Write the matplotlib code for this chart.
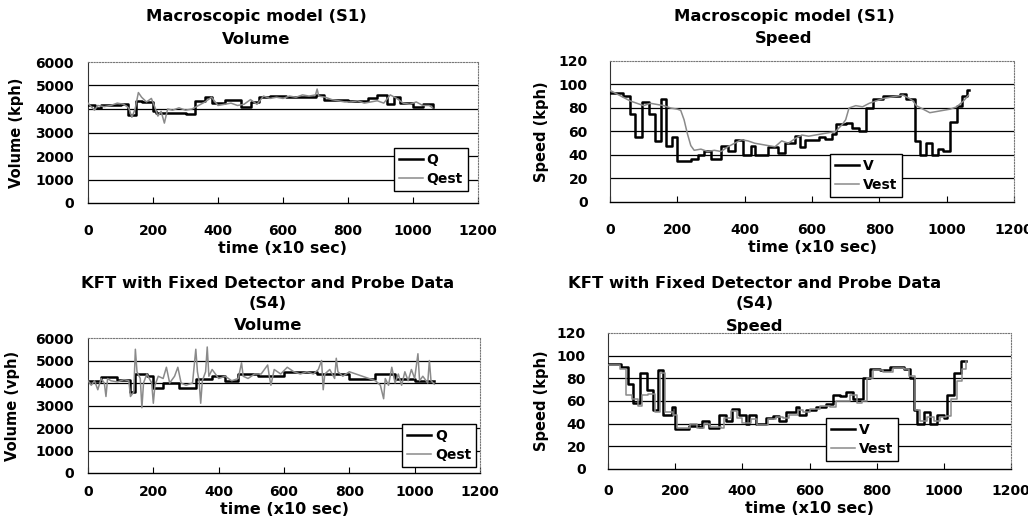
import matplotlib
matplotlib.use("Agg")
import matplotlib.pyplot as plt

plt.rcParams["font.family"] = ["DejaVu Sans"]
plt.rcParams["font.weight"] = "bold"

# ---- S1 volume (macroscopic model) ----
q1_t = [0, 20, 40, 100, 123, 148, 165, 200, 210, 300, 330, 360, 380, 420, 470, 500, 525, 560,
        610, 700, 725, 800, 860, 890, 920, 940, 960, 1000, 1030, 1060]
q1_v = [4150, 4050, 4150, 4200, 3750, 4350, 4300, 3900, 3850, 3800, 4350, 4500, 4250, 4400, 4100,
        4300, 4500, 4550, 4500, 4600, 4400, 4350, 4450, 4600, 4200, 4500, 4250, 4100, 4200, 4100]
qe1_t = [0, 10, 20, 30, 50, 70, 90, 110, 125, 135, 145, 155, 165, 180, 195, 205, 215, 225, 235, 245,
         260, 280, 300, 320, 340, 360, 380, 400, 420, 440, 460, 480, 500, 520, 540, 560, 580, 600,
         620, 640, 660, 680, 700, 705, 710, 730, 750, 770, 790, 810, 830, 850, 870, 890, 910, 930,
         950, 970, 990, 1010, 1030, 1050, 1060]
qe1_v = [4250, 4100, 3950, 4150, 4100, 4150, 4250, 4200, 4050, 3650, 4000, 4700, 4500, 4300, 4450,
         4100, 3700, 3900, 3400, 4000, 3950, 4050, 3950, 4000, 4150, 4300, 4500, 4150, 4200, 4250,
         4150, 4200, 4400, 4200, 4550, 4450, 4500, 4450, 4550, 4500, 4600, 4550, 4600, 4850, 4550,
         4500, 4400, 4350, 4300, 4300, 4350, 4250, 4300, 4350, 4250, 4600, 4450, 4250, 4200, 4300,
         4150, 4150, 4050]

# ---- S1 speed ----
v1_t = [0, 40, 60, 75, 95, 115, 135, 150, 165, 185, 200, 240, 260, 280, 300, 330, 350, 370, 395,
        420, 430, 470, 500, 520, 550, 565, 580, 620, 640, 660, 670, 700, 720, 740, 760, 780, 810,
        860, 880, 905, 920, 940, 955, 975, 990, 1010, 1030, 1045, 1060, 1065]
v1_v = [93, 90, 75, 55, 85, 75, 52, 88, 48, 55, 35, 37, 40, 43, 37, 48, 43, 53, 40, 48, 40, 47, 42,
        50, 56, 47, 53, 55, 54, 58, 66, 67, 63, 60, 80, 88, 90, 92, 88, 52, 40, 50, 40, 45, 43, 68,
        82, 90, 95, 95]
ve1_t = [0, 20, 40, 60, 80, 100, 120, 140, 160, 180, 200, 210, 220, 230, 240, 250, 270, 290, 310,
         330, 350, 370, 390, 410, 430, 450, 470, 490, 510, 530, 550, 570, 590, 610, 630, 650, 670,
         690, 700, 710, 730, 750, 770, 790, 810, 830, 850, 870, 890, 900, 910, 930, 950, 970, 990,
         1010, 1030, 1050, 1065]
ve1_v = [95, 92, 89, 86, 84, 82, 84, 83, 82, 80, 79, 78, 70, 58, 48, 44, 45, 43, 44, 43, 47, 50, 53,
         52, 50, 49, 48, 47, 52, 50, 54, 57, 56, 57, 58, 59, 60, 66, 70, 80, 82, 81, 84, 86, 88, 89,
         90, 91, 88, 86, 82, 79, 76, 77, 78, 79, 81, 86, 91]

# ---- S4 volume (KFT) ----
q4_t = [0, 40, 90, 130, 145, 180, 200, 230, 280, 330, 380, 420, 460, 520, 600, 700, 800, 880, 940,
        1000, 1060]
q4_v = [4100, 4250, 4150, 3600, 4400, 4300, 3800, 4000, 3800, 4200, 4300, 4100, 4400, 4300, 4500,
        4400, 4200, 4400, 4200, 4100, 4100]
qe4_t = [0, 10, 20, 30, 40, 50, 55, 60, 70, 90, 110, 125, 130, 140, 145, 150, 160, 165, 170, 180,
         195, 200, 205, 215, 230, 240, 250, 265, 275, 285, 300, 320, 330, 335, 340, 345, 350, 360,
         365, 370, 380, 400, 420, 440, 460, 470, 475, 490, 510, 530, 550, 555, 560, 570, 590, 610,
         630, 650, 670, 690, 705, 715, 720, 725, 740, 755, 760, 765, 780, 800, 820, 840, 860, 880,
         895, 905, 910, 920, 930, 940, 950, 960, 970, 980, 990, 1000, 1010, 1015, 1025, 1040, 1045,
         1050, 1060]
qe4_v = [4100, 3900, 4100, 3700, 4200, 4000, 3400, 4200, 4100, 4050, 4150, 4100, 3400, 3600, 5500,
         4500, 4200, 2900, 4000, 4400, 4000, 3100, 3900, 4300, 4200, 4700, 4000, 4300, 4700, 4000,
         3900, 4000, 5500, 4500, 4100, 3100, 4100, 4500, 5600, 4300, 4600, 4200, 4300, 4100, 4200,
         4900, 4300, 4200, 4400, 4400, 4800, 4300, 3900, 4600, 4400, 4700, 4500, 4400, 4500, 4400,
         4600, 5000, 3700, 4400, 4600, 4200, 5100, 4500, 4300, 4500, 4400, 4300, 4200, 4100, 3900,
         3300, 4200, 3900, 4700, 4000, 4400, 3900, 4500, 4100, 4600, 4200, 5300, 4100, 4300, 4000,
         5000, 4100, 3950]

# ---- S4 speed ----
v4_t = [0, 40, 60, 75, 95, 115, 135, 150, 165, 190, 200, 240, 270, 280, 300, 330, 350, 370, 390,
        410, 420, 440, 470, 490, 510, 530, 560, 570, 590, 620, 650, 670, 690, 710, 730, 760, 780,
        810, 840, 880, 900, 910, 920, 940, 960, 980, 1000, 1010, 1030, 1050, 1065]
v4_v = [93, 90, 75, 58, 85, 70, 52, 87, 48, 55, 35, 38, 37, 42, 36, 48, 42, 53, 48, 40, 48, 40, 45,
        47, 42, 50, 55, 48, 52, 55, 57, 65, 64, 68, 62, 80, 88, 87, 90, 88, 80, 52, 40, 50, 40, 48,
        45, 65, 85, 95, 95]
ve4_t = [0, 35, 55, 70, 90, 100, 120, 140, 155, 170, 195, 205, 245, 265, 285, 305, 335, 345, 365,
         385, 400, 425, 445, 475, 500, 520, 540, 565, 580, 600, 630, 660, 680, 700, 720, 740, 755,
         770, 790, 820, 850, 880, 895, 915, 930, 950, 970, 990, 1005, 1020, 1040, 1055, 1065]
ve4_v = [92, 88, 65, 62, 56, 65, 66, 50, 85, 50, 48, 36, 40, 36, 40, 37, 36, 45, 51, 45, 41, 44, 39,
         44, 46, 45, 48, 52, 50, 53, 56, 55, 60, 60, 65, 58, 60, 80, 87, 86, 89, 88, 82, 52, 42, 46,
         42, 46, 47, 62, 78, 88, 95]

W, H = 1028, 522
GRAY = "#8a8a8a"


def px_axes(l, t, r, b):
    return fig.add_axes([l / W, 1 - b / H, (r - l) / W, (b - t) / H])


def style(ax, ymax, ystep, ylabel, ypad, ylab_x, xpad):
    ax.set_xlim(0, 1200)
    ax.set_ylim(0, ymax)
    ax.set_xticks(range(0, 1201, 200))
    ax.set_yticks(range(0, ymax + 1, ystep))
    for y in range(ystep, ymax, ystep):
        ax.axhline(y, color="black", lw=0.9, zorder=1)
    ax.tick_params(axis="x", direction="in", length=4, width=0.8, labelsize=10, pad=xpad)
    ax.tick_params(axis="y", length=0, labelsize=10, pad=ypad)
    for lab in ax.get_xticklabels() + ax.get_yticklabels():
        lab.set_fontweight("bold")
    ax.spines["bottom"].set_color("black")
    ax.spines["bottom"].set_linewidth(1.0)
    ax.spines["left"].set_color("#333333")
    ax.spines["left"].set_linewidth(0.8)
    for s in ("top", "right"):
        ax.spines[s].set_color("#777777")
        ax.spines[s].set_linestyle((0, (1, 1.5)))
        ax.spines[s].set_linewidth(0.8)
    ax.set_ylabel(ylabel, fontsize=10.5, fontweight="bold")
    ax.yaxis.set_label_coords(ylab_x, 0.5)
    ax.set_xlabel("time (x10 sec)", fontsize=11.5, fontweight="bold", labelpad=2)


def legend(ax, names, loc, anchor):
    leg = ax.legend(names, loc=loc, bbox_to_anchor=anchor, fontsize=10, frameon=True,
                    fancybox=False, edgecolor="black", framealpha=1, handlelength=1.7,
                    handletextpad=0.3, borderpad=0.35, labelspacing=0.35, borderaxespad=0)
    leg.get_frame().set_linewidth(1.0)
    for t in leg.get_texts():
        t.set_fontweight("bold")


fig = plt.figure(figsize=(W / 100, H / 100), dpi=100)
fig.patch.set_facecolor("white")

# panel 1
ax1 = px_axes(88, 62, 478, 203)
ax1.step(q1_t, q1_v, where="post", color="black", lw=1.8, zorder=3)
ax1.plot(qe1_t, qe1_v, color=GRAY, lw=1.1, zorder=4)
style(ax1, 6000, 1000, "Volume (kph)", 10, -0.164, 15)
legend(ax1, ["Q", "Qest"], "lower right", (0.974, 0.085))

# panel 2
ax2 = px_axes(610, 61, 1014, 202)
ax2.step(v1_t, v1_v, where="post", color="black", lw=1.8, zorder=3)
ax2.plot(ve1_t, ve1_v, color=GRAY, lw=1.1, zorder=4)
style(ax2, 120, 20, "Speed (kph)", 16, -0.151, 15)
legend(ax2, ["V", "Vest"], "lower left", (0.545, 0.035))

# panel 3
ax3 = px_axes(88, 338, 480, 473)
ax3.step(q4_t, q4_v, where="post", color="black", lw=1.8, zorder=3)
ax3.plot(qe4_t, qe4_v, color=GRAY, lw=1.1, zorder=4)
style(ax3, 6000, 1000, "Volume (vph)", 10, -0.173, 9)
legend(ax3, ["Q", "Qest"], "lower right", (0.99, 0.044))

# panel 4
ax4 = px_axes(608, 333, 1011, 469)
ax4.step(v4_t, v4_v, where="post", color="black", lw=1.8, zorder=3)
ax4.step(ve4_t, ve4_v, where="post", color=GRAY, lw=1.1, zorder=4)
style(ax4, 120, 20, "Speed (kph)", 16, -0.146, 11)
legend(ax4, ["V", "Vest"], "lower left", (0.542, 0.059))

# titles
tkw = dict(fontsize=11.8, fontweight="bold", ha="center", va="center")
fig.text(256 / W, 1 - 17 / H, "Macroscopic model (S1)", **tkw)
fig.text(256 / W, 1 - 39 / H, "Volume", **tkw)
fig.text(784 / W, 1 - 17 / H, "Macroscopic model (S1)", **tkw)
fig.text(784 / W, 1 - 39 / H, "Speed", **tkw)
fig.text(268 / W, 1 - 283 / H, "KFT with Fixed Detector and Probe Data", **tkw)
fig.text(268 / W, 1 - 304 / H, "(S4)", **tkw)
fig.text(268 / W, 1 - 326 / H, "Volume", **tkw)
fig.text(755 / W, 1 - 283 / H, "KFT with Fixed Detector and Probe Data", **tkw)
fig.text(755 / W, 1 - 304 / H, "(S4)", **tkw)
fig.text(755 / W, 1 - 326 / H, "Speed", **tkw)

fig.savefig("out.png", dpi=100, facecolor="white")
